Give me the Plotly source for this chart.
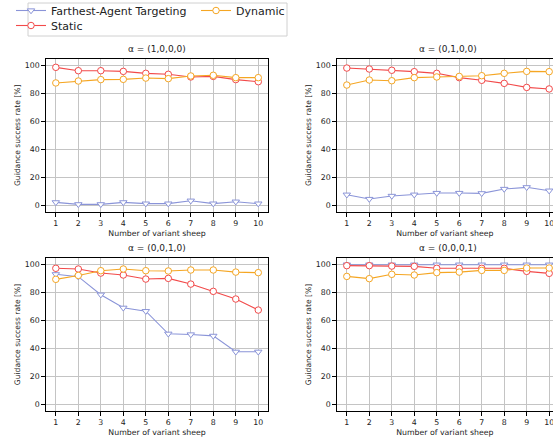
import plotly.graph_objects as go

sheep = [1, 2, 3, 4, 5, 6, 7, 8, 9, 10]
titles = ["α = (1,0,0,0)", "α = (0,1,0,0)", "α = (0,0,1,0)", "α = (0,0,0,1)"]

farthest = [
    [1.9, 0.5, 0.5, 1.9, 1.0, 1.0, 3.1, 1.0, 2.4, 1.0],
    [7.4, 4.3, 6.5, 7.4, 8.6, 8.6, 8.4, 11.5, 12.7, 10.3],
    [93.1, 91.4, 78.5, 69.1, 66.7, 50.5, 50.0, 49.0, 37.6, 37.6],
    [100, 100, 100, 100, 100, 100, 100, 100, 100, 100],
]
static = [
    [98.8, 96.4, 96.4, 95.9, 94.5, 93.8, 91.9, 92.3, 90.0, 88.5],
    [98.3, 97.6, 96.7, 95.7, 94.5, 91.4, 89.5, 87.3, 84.4, 83.3],
    [97.4, 96.9, 94.0, 92.6, 89.7, 90.2, 86.1, 80.9, 75.4, 67.5],
    [99.3, 99.3, 99.0, 98.8, 97.4, 97.4, 97.4, 97.4, 95.2, 93.8],
]
dynamic = [
    [87.6, 89.0, 90.0, 90.2, 91.1, 90.7, 92.6, 93.1, 91.4, 91.4],
    [86.1, 89.7, 89.2, 91.4, 91.9, 92.3, 92.8, 94.5, 95.9, 95.7],
    [89.5, 92.3, 95.7, 96.9, 95.7, 95.5, 96.2, 96.2, 94.7, 94.3],
    [91.6, 90.0, 93.1, 92.6, 94.3, 94.7, 95.9, 95.9, 97.6, 97.6],
]
y_ticks = [0, 20, 40, 60, 80, 100]

W, H = 553, 443
FONT = "DejaVu Sans"
C_FAR = "#8a94d8"
C_STA = "#f24a4a"
C_DYN = "#f5a623"

# plot-area pixel boxes (x0, x1, ytop, ybottom)
boxes = [
    (45.7, 268.4, 58.7, 212.0),
    (336.7, 553.0, 58.7, 212.0),
    (45.7, 268.4, 257.7, 411.3),
    (336.7, 553.0, 257.7, 411.3),
]
xranges = [[0.55, 10.45], [0.55, 10.17], [0.55, 10.45], [0.55, 10.17]]

fig = go.Figure()
series = [("Farthest-Agent Targeting", farthest, C_FAR, "triangle-down", "legend"),
          ("Static", static, C_STA, "circle", "legend3"),
          ("Dynamic", dynamic, C_DYN, "circle", "legend2")]

for i in range(4):
    ax = "" if i == 0 else str(i + 1)
    for name, data, col, sym, lg in series:
        fig.add_trace(go.Scatter(
            x=sheep, y=data[i], mode="lines+markers", name=name,
            line=dict(color=col, width=1.1),
            marker=dict(symbol=sym, size=6.5, color="white", line=dict(color=col, width=1)),
            xaxis="x" + ax, yaxis="y" + ax, showlegend=(i == 0), legend=lg,
        ))

layout = dict(
    width=W, height=H, margin=dict(l=0, r=0, t=0, b=0, autoexpand=False),
    paper_bgcolor="white", plot_bgcolor="white",
    font=dict(family=FONT, size=8, color="#222"),
)
annotations = []
for i, (x0, x1, yt, yb) in enumerate(boxes):
    ax = "" if i == 0 else str(i + 1)
    common = dict(showline=True, mirror=True, linecolor="black", linewidth=1,
                  ticks="outside", ticklen=3.5, tickcolor="black", automargin=False,
                  showgrid=True, gridcolor="#c4c4c4", gridwidth=1, zeroline=False,
                  ticklabeloverflow="allow",
                  tickfont=dict(family=FONT, size=7.8, color="#222"))
    layout["xaxis" + ax] = dict(common, domain=[x0 / W, x1 / W], range=xranges[i],
                               tickvals=sheep, anchor="y" + ax,
                               title=dict(text="Number of variant sheep",
                                          font=dict(family=FONT, size=7.8, color="#222"),
                                          standoff=3))
    layout["yaxis" + ax] = dict(common, domain=[1 - yb / H, 1 - yt / H], range=[-5, 105],
                               tickvals=y_ticks, anchor="x" + ax,
                               title=dict(text="Guidance success rate [%]",
                                          font=dict(family=FONT, size=7.6, color="#222"),
                                          standoff=3))
    annotations.append(dict(text=titles[i], xref="paper", yref="paper",
                            x=(x0 + (x1 if i % 2 == 0 else 559.3)) / 2 / W,
                            y=1 - (yt - 3) / H, xanchor="center", yanchor="bottom",
                            showarrow=False, font=dict(family=FONT, size=9, color="#222")))

layout["annotations"] = annotations
leg_common = dict(xanchor="left", yanchor="top", orientation="v",
                  bgcolor="rgba(0,0,0,0)", borderwidth=0, itemwidth=30,
                  font=dict(family=FONT, size=11, color="#222"))
layout["legend"] = dict(leg_common, x=11 / W, y=1 + 4 / H)
layout["legend3"] = dict(leg_common, x=11 / W, y=1 - 11 / H)
layout["legend2"] = dict(leg_common, x=196 / W, y=1 + 4 / H)
layout["shapes"] = [dict(type="rect", xref="paper", yref="paper",
                         x0=28 / W, x1=287 / W, y0=1 - 36 / H, y1=1 - 3 / H,
                         line=dict(color="#d0d0d0", width=1), fillcolor="rgba(255,255,255,0)")]
fig.update_layout(**layout)
fig.write_html("out.html", post_script="document.body.style.margin='0';",
               config={"displayModeBar": False})
